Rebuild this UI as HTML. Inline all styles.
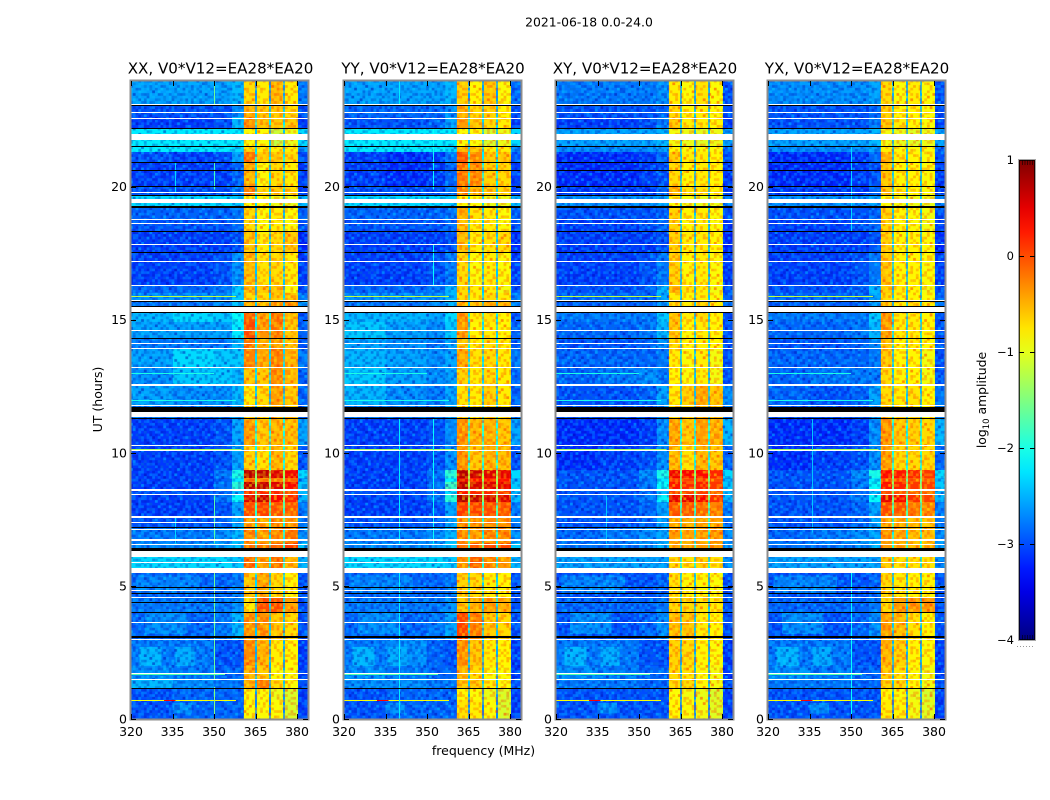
<!DOCTYPE html>
<html>
<head>
<meta charset="utf-8">
<title>2021-06-18 0.0-24.0</title>
<style>
html,body{margin:0;padding:0;background:#fff;}
svg{display:block;}
text{font-family:"DejaVu Sans","Liberation Sans",sans-serif;fill:#000;}
</style>
</head>
<body>
<svg id="chart" xmlns="http://www.w3.org/2000/svg" width="1050" height="800" viewBox="0 0 1050 800">
  <defs id="defs"></defs>
  <text x="589" y="26.500" text-anchor="middle" font-size="12.4">2021-06-18 0.0-24.0</text>
  <text x="483.500" y="755" text-anchor="middle" font-size="12.5">frequency (MHz)</text>
  <text transform="translate(102,399.500) rotate(-90)" text-anchor="middle" font-size="12.5">UT (hours)</text>
  <text transform="translate(986,400) rotate(-90)" text-anchor="middle" font-size="12.4">log<tspan font-size="8.5" dy="3">10</tspan><tspan dy="-3"> amplitude</tspan></text>
</svg>
<script>
/* ---- data ---- */
const panelTitles = ["XX, V0*V12=EA28*EA20","YY, V0*V12=EA28*EA20","XY, V0*V12=EA28*EA20","YX, V0*V12=EA28*EA20"];
const xTickValues = [320,335,350,365,380];
const yTickValues = [0,5,10,15,20];
const colorbarTickValues = [1,0,-1,-2,-3,-4];

/* time-block edges, hours */
const timeEdges = [23.95,23.1,22.6,22.2,21.5,21.3,20.9,20,19.7,19.25,18.8,18.3,17.5,16.3,16,15.7,15.3,14.9,14.3,13.9,13.2,12.55,11.77,11.3,10.3,9.35,9.05,8.9,8.6,8.4,8.15,7.6,7.2,6.6,6.3,5.5,4.6,4,3,2,1.5,1.15,0.7,0];
/* frequency-block edges, MHz */
const freqEdges = [320,335,350,356.5,360.7,364.7,365.6,369.7,370.6,374.8,375.8,380.2,384];
/* which value of a row each frequency block uses: L M R N b1 gap b2 gap b3 gap b4 edge */
const freqBlockColumn = [0,1,2,3,4,8,5,8,6,8,7,9];

/* log10 amplitude per time block: [L,M,R,N,band1,band2,band3,band4,gap,edge] */
const xxValues = [
[-2.6,-2.6,-2.6,-2.5,-0.7,-0.8,-0.5,-0.8,-2.2,-2.8],
[-3,-3,-3,-2.7,-0.5,-0.6,-0.6,-0.7,-1.9,-3],
[-3.1,-3.1,-3,-2.5,-0.35,-0.55,-0.6,-0.6,-1.8,-3.1],
[-2.2,-2.2,-2.2,-2.2,-0.9,-0.9,-1.2,-1,-2,-2.3],
[-2.2,-2.2,-2.2,-2.3,-0.7,-0.8,-0.8,-0.8,-1.9,-2.7],
[-3,-3.1,-3,-2.6,-0.2,-0.6,-0.6,-0.7,-1.8,-3],
[-3.1,-3.1,-3.1,-2.9,-0.5,-0.9,-0.7,-0.8,-1.9,-3.1],
[-3,-3,-3,-2.8,-0.25,-0.7,-0.6,-0.7,-1.9,-3.1],
[-2.3,-2.3,-2.3,-2.4,-0.9,-0.9,-1,-1,-1.9,-2.5],
[-2.9,-2.9,-2.9,-2.8,-0.7,-0.9,-0.8,-0.9,-2,-2.9],
[-3,-3,-3,-2.9,-0.7,-0.9,-0.8,-0.9,-2,-3],
[-3.1,-3.1,-3.1,-3,-0.6,-0.8,-0.7,-0.6,-2,-3.2],
[-3.1,-3.1,-3,-2.7,-0.55,-0.75,-0.7,-0.8,-2,-3.1],
[-2.9,-2.9,-2.8,-2.4,-0.55,-0.6,-0.55,-0.9,-2,-3],
[-2.7,-2.7,-2.7,-2.4,-0.7,-0.7,-0.6,-0.6,-1.9,-2.8],
[-2.8,-2.8,-2.7,-2.4,-0.5,-0.6,-0.4,-0.3,-2,-2.6],
[-2.5,-2.3,-2.4,-2.1,-0.05,-0.4,-0.2,-0.55,-1.7,-3],
[-2.6,-2.6,-2.6,-2.2,0,-0.35,-0.25,-0.6,-1.8,-2.9],
[-2.8,-2.8,-2.8,-2.5,-0.2,-0.5,-0.4,-0.6,-1.8,-3],
[-2.6,-2.3,-2.4,-2.4,-0.25,-0.45,-0.25,-0.5,-1.9,-2.8],
[-2.7,-2.4,-2.4,-2.5,-0.6,-0.6,-0.3,-0.55,-1.9,-2.9],
[-2.6,-2.7,-2.7,-2.5,-0.8,-0.7,-0.4,-0.6,-2,-2.9],
[-2.8,-2.8,-2.8,-2.6,-0.7,-0.7,-0.5,-0.6,-2,-2.9],
[-3.1,-3.1,-3,-2.6,-0.4,-0.6,-0.5,-0.55,-1.6,-2.6],
[-3.1,-3.1,-3,-2.6,-0.65,-0.75,-0.5,-0.7,-1.7,-3],
[-3.1,-3.1,-2.8,-2,0.75,0.7,0.55,0.45,-1,-2.3],
[-3.1,-3.1,-2.9,-2.2,-0.2,-0.3,-0.2,-0.1,-1.1,-2.6],
[-3.1,-3.1,-2.8,-1.9,0.75,0.7,0.55,0.4,-1,-2.4],
[-3,-3,-2.9,-2.5,0.2,0.2,0.2,0,-1.2,-2.5],
[-3.1,-3.1,-2.8,-2.1,0.55,0.65,0.4,0.2,-1.1,-2.5],
[-3.1,-3.1,-3,-2.6,0,0.05,-0.05,-0.1,-1.5,-2.8],
[-3,-3,-2.9,-2.6,-0.4,-0.45,-0.3,-0.4,-1.7,-2.8],
[-2.8,-2.8,-2.7,-2.5,-0.3,-0.4,-0.3,-0.2,-1.8,-2.7],
[-2.7,-2.7,-2.6,-2.4,-0.2,-0.2,-0.1,0.1,-1.5,-2.4],
[-2.3,-2.3,-2.3,-2.4,-0.15,-0.4,-0.2,-0.5,-1.7,-2.5],
[-2.9,-2.9,-2.9,-2.8,-0.6,-0.45,-0.7,-0.85,-1.9,-3],
[-2.8,-2.8,-2.8,-2.7,-0.8,0,0,-0.4,-1.9,-3],
[-2.9,-2.9,-2.8,-2.5,-0.35,-0.35,-0.6,-0.7,-2,-3],
[-2.8,-2.8,-3,-3,-0.3,-0.5,-0.8,-0.85,-2.1,-3.1],
[-2.7,-2.8,-2.9,-2.9,-0.5,-0.6,-0.9,-0.9,-2.1,-3.1],
[-2.5,-2.7,-2.8,-2.8,-0.5,-0.2,-0.7,-0.9,-2,-3],
[-3,-2.9,-2.9,-2.9,-0.9,-0.9,-1,-1.1,-2.2,-3.1],
[-3,-2.9,-2.9,-2.9,-0.9,-0.9,-0.9,-1.1,-2.3,-3.1]
];
const yyValues = [
[-2.6,-2.6,-2.6,-2.5,-0.65,-0.85,-0.6,-0.9,-2.2,-2.9],
[-2.9,-2.9,-2.9,-2.7,-0.5,-0.7,-0.65,-0.85,-2,-3],
[-3,-3,-2.9,-2.6,-0.4,-0.6,-0.7,-0.8,-1.9,-3.1],
[-2.2,-2.2,-2.2,-2.2,-0.9,-0.9,-1.1,-1,-2,-2.3],
[-2.2,-2.2,-2.2,-2.3,-0.5,-0.6,-0.8,-0.8,-1.9,-2.7],
[-3.1,-3.2,-3.1,-2.8,-0.05,-0.3,-0.6,-0.6,-1.8,-3],
[-3.1,-3.2,-3.1,-2.9,-0.2,-0.3,-0.65,-0.7,-1.8,-3.1],
[-3,-3,-3,-2.8,-0.3,-0.5,-0.6,-0.7,-1.9,-3.1],
[-2.3,-2.3,-2.3,-2.4,-0.85,-0.9,-1,-1,-1.9,-2.5],
[-2.9,-2.9,-2.9,-2.8,-0.5,-0.75,-0.8,-0.9,-2,-2.9],
[-3,-3,-3,-2.9,-0.55,-0.8,-0.8,-0.9,-2,-3],
[-3.1,-3.1,-3.1,-3,-0.55,-0.8,-0.75,-0.7,-2,-3.2],
[-3.1,-3.1,-3,-2.8,-0.7,-0.9,-0.8,-0.9,-2,-3.1],
[-2.9,-2.9,-2.8,-2.5,-0.7,-0.8,-0.8,-0.95,-2,-3],
[-2.7,-2.7,-2.7,-2.5,-0.7,-0.8,-0.7,-0.8,-1.9,-2.8],
[-2.8,-2.8,-2.7,-2.5,-0.5,-0.6,-0.5,-0.5,-2,-2.7],
[-2.5,-2.5,-2.6,-2.3,-0.35,-0.8,-0.75,-0.85,-1.8,-3],
[-2.4,-2.6,-2.7,-2.4,-0.4,-0.85,-0.8,-0.85,-1.9,-2.9],
[-2.6,-2.7,-2.8,-2.6,-0.6,-0.8,-0.7,-0.8,-1.8,-3],
[-2.5,-2.6,-2.7,-2.6,-0.45,-0.75,-0.7,-0.8,-1.9,-2.8],
[-2.4,-2.6,-2.7,-2.6,-0.65,-0.8,-0.7,-0.8,-1.9,-2.9],
[-2.5,-2.7,-2.8,-2.6,-0.75,-0.8,-0.65,-0.8,-2,-2.9],
[-2.8,-2.8,-2.8,-2.6,-0.7,-0.8,-0.7,-0.8,-2,-2.9],
[-3.1,-3.1,-3,-2.7,-0.35,-0.5,-0.5,-0.6,-1.6,-2.6],
[-3.1,-3.1,-3,-2.7,-0.35,-0.6,-0.5,-0.55,-1.6,-3],
[-3.1,-3.1,-2.8,-1.9,0.75,0.65,0.55,0.5,-0.9,-2.3],
[-3.1,-3.1,-2.9,-2.1,0.5,0.3,0.3,0.3,-1,-2.5],
[-3.1,-3.1,-2.8,-1.8,0.75,0.6,0.55,0.5,-0.9,-2.4],
[-3,-3,-2.9,-2.3,0.3,0.2,0.2,0.1,-1.1,-2.5],
[-3.1,-3.1,-2.8,-1.9,0.8,0.7,0.6,0.55,-1,-2.5],
[-3.1,-3.1,-3,-2.6,0.1,0.05,0,-0.05,-1.4,-2.8],
[-3,-3,-2.9,-2.6,-0.35,-0.35,-0.3,-0.35,-1.7,-2.8],
[-2.8,-2.8,-2.7,-2.5,-0.3,-0.4,-0.3,-0.3,-1.8,-2.7],
[-2.7,-2.7,-2.6,-2.4,-0.2,-0.1,0,0,-1.5,-2.4],
[-2.3,-2.3,-2.3,-2.4,-0.35,-0.1,-0.3,-0.4,-1.7,-2.5],
[-2.9,-2.9,-2.9,-2.8,-0.65,-0.7,-0.8,-0.85,-1.9,-3],
[-2.8,-2.8,-2.8,-2.7,-0.6,-0.5,-0.4,-0.5,-1.9,-3],
[-2.9,-2.9,-2.8,-2.6,0.05,-0.25,-0.6,-0.7,-2,-3],
[-2.8,-2.7,-2.9,-3,-0.35,-0.6,-0.8,-0.85,-2.1,-3.1],
[-2.7,-2.8,-2.9,-2.9,-0.5,-0.7,-0.9,-0.9,-2.1,-3.1],
[-2.7,-2.7,-2.8,-2.8,-0.6,-0.6,-0.8,-0.9,-2,-3],
[-3,-2.9,-2.9,-2.9,-0.85,-0.9,-1,-1.1,-2.2,-3.1],
[-3,-2.9,-2.9,-2.9,-0.75,-0.8,-0.9,-1.1,-2.3,-3.1]
];
const xyValues = [
[-2.8,-2.8,-2.8,-2.7,-0.8,-0.9,-0.75,-0.9,-2.1,-3],
[-3,-3,-3,-2.9,-0.7,-0.85,-0.8,-0.9,-2,-3],
[-3.1,-3.1,-3,-2.8,-0.6,-0.8,-0.8,-0.85,-2,-3.1],
[-2.6,-2.6,-2.6,-2.5,-0.95,-1,-1.05,-1,-2,-2.6],
[-2.7,-2.7,-2.7,-2.6,-0.85,-0.9,-0.9,-0.9,-2,-2.9],
[-3.2,-3.2,-3.1,-2.9,-0.6,-0.8,-0.8,-0.85,-2,-3],
[-3.2,-3.2,-3.1,-3,-0.7,-0.85,-0.8,-0.85,-2,-3.1],
[-3.1,-3.1,-3.1,-2.9,-0.5,-0.75,-0.75,-0.85,-2,-3.1],
[-2.7,-2.7,-2.7,-2.6,-0.9,-0.95,-1,-1,-2,-2.8],
[-3,-3,-3,-2.9,-0.65,-0.85,-0.8,-0.9,-2,-3],
[-3.1,-3.1,-3,-2.9,-0.65,-0.85,-0.8,-0.9,-2,-3.1],
[-3.1,-3.1,-3.1,-3,-0.65,-0.8,-0.8,-0.85,-2,-3.2],
[-3.1,-3.1,-3,-2.8,-0.65,-0.85,-0.8,-0.9,-2,-3.1],
[-3,-3,-2.9,-2.5,-0.55,-0.75,-0.8,-0.95,-2,-3],
[-2.9,-2.9,-2.9,-2.6,-0.8,-0.85,-0.8,-0.9,-2,-2.9],
[-2.9,-2.9,-2.9,-2.6,-0.7,-0.8,-0.7,-0.8,-2,-2.8],
[-2.8,-2.8,-2.8,-2.4,-0.55,-0.8,-0.7,-0.85,-1.9,-3],
[-2.9,-2.9,-2.8,-2.5,-0.6,-0.85,-0.8,-0.85,-1.9,-3],
[-3,-3,-2.9,-2.7,-0.7,-0.85,-0.8,-0.85,-1.9,-3],
[-2.9,-2.9,-2.9,-2.8,-0.8,-0.9,-0.8,-0.95,-2,-3],
[-2.9,-2.8,-2.7,-2.8,-0.85,-0.9,-0.8,-0.95,-2,-3],
[-3,-3,-2.9,-2.6,-0.8,-0.65,-0.45,-0.6,-2,-2.7],
[-3,-3,-3,-2.7,-0.7,-0.65,-0.5,-0.6,-2,-2.8],
[-3.2,-3.2,-3.1,-2.7,-0.45,-0.6,-0.4,-0.5,-1.7,-2.5],
[-3.2,-3.1,-3,-2.7,-0.55,-0.75,-0.5,-0.6,-1.7,-2.9],
[-3,-3,-2.7,-2,0.45,0.4,0.35,0.2,-1.1,-2.3],
[-3,-3,-2.8,-2.2,0.1,0.05,0.1,0,-1.2,-2.5],
[-3,-3,-2.8,-2.1,0.3,0.2,0.25,0.1,-1.1,-2.4],
[-3,-3,-2.9,-2.5,0.05,0,0.05,-0.1,-1.3,-2.5],
[-3,-3,-2.8,-2.1,0.5,0.5,0.4,0.15,-1.2,-2.5],
[-3,-3,-2.9,-2.6,-0.05,-0.05,-0.15,-0.25,-1.5,-2.8],
[-3,-3,-2.9,-2.6,-0.45,-0.5,-0.4,-0.45,-1.7,-2.8],
[-2.9,-2.8,-2.7,-2.6,-0.4,-0.45,-0.4,-0.35,-1.8,-2.7],
[-2.8,-2.8,-2.7,-2.5,-0.45,-0.5,-0.4,-0.4,-1.6,-2.6],
[-2.6,-2.6,-2.6,-2.6,-0.7,-0.75,-0.65,-0.75,-1.8,-2.7],
[-3,-3,-3,-2.9,-0.75,-0.85,-0.85,-0.9,-2,-3],
[-2.9,-2.9,-2.9,-2.8,-0.7,-0.7,-0.75,-0.8,-2,-3],
[-3,-3,-2.9,-2.7,-0.55,-0.6,-0.8,-0.85,-2,-3],
[-2.8,-2.8,-3,-3,-0.65,-0.7,-0.85,-0.9,-2.1,-3.1],
[-2.7,-2.8,-2.9,-2.9,-0.7,-0.75,-0.9,-0.95,-2.1,-3.1],
[-2.8,-2.8,-2.9,-2.9,-0.7,-0.7,-0.85,-0.95,-2,-3],
[-3,-3,-3,-3,-0.9,-0.95,-1,-1.1,-2.2,-3.1],
[-3,-3,-3,-3,-0.85,-0.9,-0.95,-1.05,-2.3,-3.1]
];
const yxValues = [
[-2.7,-2.7,-2.7,-2.6,-0.7,-0.9,-0.8,-0.9,-2.1,-3],
[-3,-3,-3,-2.9,-0.65,-0.85,-0.85,-0.9,-2,-3],
[-3,-3,-3,-2.8,-0.6,-0.8,-0.85,-0.9,-2,-3.1],
[-2.6,-2.6,-2.6,-2.5,-0.95,-1,-1.05,-1,-2,-2.6],
[-2.7,-2.7,-2.7,-2.6,-0.8,-0.9,-0.9,-0.9,-2,-2.9],
[-3.2,-3.2,-3.1,-2.9,-0.5,-0.8,-0.85,-0.9,-2,-3],
[-3.2,-3.2,-3.1,-3,-0.6,-0.85,-0.85,-0.9,-2,-3.1],
[-3.1,-3.1,-3.1,-2.9,-0.6,-0.8,-0.85,-0.9,-2,-3.1],
[-2.7,-2.7,-2.7,-2.6,-0.9,-0.95,-1,-1,-2,-2.8],
[-3,-3,-3,-2.9,-0.65,-0.85,-0.9,-0.95,-2,-3],
[-3.1,-3.1,-3,-2.9,-0.65,-0.85,-0.9,-0.95,-2,-3.1],
[-3.1,-3.1,-3.1,-3,-0.65,-0.85,-0.85,-0.9,-2,-3.2],
[-3.1,-3.1,-3,-2.8,-0.6,-0.85,-0.85,-0.9,-2,-3.1],
[-3,-3,-2.9,-2.5,-0.6,-0.8,-0.85,-0.95,-2,-3],
[-2.9,-2.9,-2.9,-2.6,-0.7,-0.85,-0.85,-0.9,-2,-2.9],
[-2.9,-2.9,-2.9,-2.6,-0.6,-0.8,-0.75,-0.8,-2,-2.8],
[-2.8,-2.8,-2.8,-2.4,-0.35,-0.8,-0.8,-0.85,-1.9,-3],
[-2.9,-2.9,-2.8,-2.5,-0.4,-0.8,-0.8,-0.85,-1.9,-3],
[-3,-3,-2.9,-2.7,-0.55,-0.85,-0.8,-0.85,-1.9,-3],
[-2.9,-2.9,-2.9,-2.8,-0.6,-0.85,-0.85,-0.95,-2,-3],
[-2.9,-2.8,-2.8,-2.8,-0.7,-0.85,-0.85,-0.95,-2,-3],
[-2.9,-3,-2.9,-2.6,-0.7,-0.8,-0.75,-0.85,-2,-2.8],
[-3,-3,-3,-2.7,-0.6,-0.8,-0.8,-0.85,-2,-2.8],
[-3.2,-3.2,-3.1,-2.7,-0.35,-0.6,-0.65,-0.7,-1.7,-2.5],
[-3.2,-3.1,-3,-2.7,-0.4,-0.7,-0.7,-0.7,-1.7,-2.9],
[-3,-3,-2.7,-2,0.35,0.3,0.2,0.1,-1.1,-2.3],
[-3,-3,-2.8,-2.2,0.05,0,-0.05,-0.1,-1.2,-2.5],
[-3,-3,-2.8,-2.1,0.3,0.25,0.1,0.05,-1.1,-2.4],
[-3,-3,-2.9,-2.5,0,-0.05,-0.1,-0.15,-1.3,-2.5],
[-3,-3,-2.8,-2.1,0.5,0.4,0.15,0.05,-1.2,-2.5],
[-3,-3,-2.9,-2.6,0,-0.05,-0.2,-0.3,-1.5,-2.8],
[-3,-3,-2.9,-2.6,-0.45,-0.5,-0.55,-0.6,-1.7,-2.8],
[-2.9,-2.8,-2.7,-2.6,-0.35,-0.45,-0.55,-0.55,-1.8,-2.7],
[-2.8,-2.8,-2.7,-2.5,-0.4,-0.5,-0.55,-0.55,-1.6,-2.6],
[-2.6,-2.6,-2.6,-2.6,-0.6,-0.75,-0.75,-0.75,-1.8,-2.7],
[-3,-3,-3,-2.9,-0.7,-0.8,-0.85,-0.85,-2,-3],
[-2.9,-2.9,-2.9,-2.8,-0.7,-0.4,-0.35,-0.35,-2,-3],
[-3,-3,-2.9,-2.7,-0.4,-0.55,-0.75,-0.85,-2,-3],
[-2.8,-2.8,-3,-3,-0.5,-0.65,-0.85,-0.9,-2.1,-3.1],
[-2.7,-2.8,-2.9,-2.9,-0.6,-0.75,-0.9,-0.95,-2.1,-3.1],
[-2.8,-2.8,-2.9,-2.9,-0.65,-0.7,-0.85,-0.95,-2,-3],
[-3,-3,-3,-3,-0.85,-0.9,-1,-1.1,-2.2,-3.1],
[-3,-3,-3,-3,-0.8,-0.85,-0.95,-1.05,-2.3,-3.1]
];

/* flagged-out time ranges, hours [from,to] – shared by all correlations */
const whiteFlags = [[23.11,23.06],[22.8,22.76],[22.59,22.55],[21.96,21.75],[19.79,19.75],[19.53,19.4],[18.79,18.75],[18.64,18.6],[17.86,17.82],[17.21,17.17],[16.29,16.25],[15.74,15.7],[15.49,15.3],[14.63,14.59],[14.13,14.09],[13.95,13.91],[13.22,13.18],[12.59,12.5],[11.79,11.75],[11.52,11.36],[10.29,10.25],[10.12,10.08],[8.65,8.55],[8.47,8.43],[7.62,7.55],[7.41,7.37],[7.15,7.11],[6.75,6.69],[6.59,6.55],[6.31,6.12],[6.11,6.07],[5.89,5.85],[5.66,5.5],[4.84,4.8],[4.59,4.55],[3.65,3.61],[3.02,2.98],[1.72,1.68],[1.5,1.46]];
const blackFlags = [[23.06,23.03],[22.21,22.17],[21.52,21.48],[20.92,20.88],[20.61,20.57],[20.02,19.98],[19.69,19.65],[19.26,19.19],[18.33,18.29],[17.54,17.5],[15.69,15.65],[15.52,15.49],[15.3,15.26],[14.32,14.28],[11.73,11.54],[11.32,11.28],[7.22,7.18],[6.41,6.32],[4.97,4.93],[4.72,4.68],[4.39,4.35],[4.03,3.99],[3.1,3.06],[1.17,1.13]];

/* narrow interference features, per correlation: vertical = [MHz,level,fromHour,toHour] */
const xxVerticalRfi = [[350,-1.5,0,1.2],[350,-1.6,1.5,5.5],[350,-1.7,6.6,8.4],[350,-1.8,19.9,20.9],[350,-1.6,23.1,23.95],[336,-2.3,19.8,20.9],[336,-2.3,6.6,7.6]];
const yyVerticalRfi = [[340,-2.2,6.6,11.3],[340,-2.2,0,5.5],[352,-2.1,6.6,11.3],[352,-2.1,19.9,22.2],[352,-2.1,16.3,17.8],[340,-2.2,23.1,23.95]];
const xyVerticalRfi = [[338,-2.4,6.6,8.4]];
const yxVerticalRfi = [[350,-2.1,0,5.5],[336,-2.4,7,11.3],[350,-2.3,18.3,21.5]];
/* horizontal = [hour,fromMHz,toMHz,level] */
const horizontalRfiHours = [[0.7,320,358,-0.9],[0.7,332,336,0.4],[1.7,320,354,-1.7],[6.57,320,362,-0.8],[10.13,320,360,-1.3],[15.9,320,358,-1.2],[13,320,350,-2],[12,320,358,-2]];
/* soft brighter patches in the background = [fromHour,toHour,fromMHz,toMHz,level] */
const backgroundPatches = [[2,2.7,323,331,-2.5],[2,2.7,336,343,-2.55],[0.2,0.6,335,342,-2.7],[4.7,5.4,322,345,-2.75],[3.2,4,325,340,-2.7]];

/* small hand-typed grain tile standing in for channel noise I cannot read cell by cell */
const speckleTile = [
"w..k.w..kw...k.w.",
".k..w..k...w.k...",
"..w.k.w..k.w...kw",
"k...w...w..k.w...",
".w.k..k.w.k...w.k",
"w..w.k...w..k.w..",
".k...w.k..w..k..w",
"..wk...w.k...w.k.",
"w...k.w...w.k...w",
".k.w..k.w...w.k..",
"..k.w...k.w.k..w.",
"w.w...k.w..k..w.k",
".k..k.w...k.w...w"
];

/* ---- layout constants and axis functions ---- */
const SVG_NS = "http://www.w3.org/2000/svg";
const chart = document.getElementById("chart");
const panelLeft = [131,344,556,768];
const PANEL_W = 177, PANEL_TOP = 81, PANEL_BOTTOM = 719;
const PX_PER_MHZ = 2.767, PX_PER_HOUR = 26.62, GRAIN_H = 2.66;
const GAP_COLUMN = 8, GAP_DEPTH = -0.4;
const CB = {x:1019, w:16, top:160, bottom:640};
const VMIN = -4, VMAX = 1;

function xScale(freq, panel){ return panelLeft[panel] + (freq-320)*PX_PER_MHZ; }
function yScale(hour){ return PANEL_BOTTOM - hour*PX_PER_HOUR; }
function cbScale(v){ return CB.bottom - (v-VMIN)/(VMAX-VMIN)*(CB.bottom-CB.top); }
function clip01(a){ return Math.max(0,Math.min(1,a)); }
function jet(v){
  const t = clip01((v-VMIN)/(VMAX-VMIN));
  const r = clip01(1.5-Math.abs(4*t-3));
  const g = clip01(1.5-Math.abs(4*t-2));
  const b = clip01(1.5-Math.abs(4*t-1));
  return "rgb("+Math.round(r*255)+","+Math.round(g*255)+","+Math.round(b*255)+")";
}
function node(tag, parent, attrs){
  const n = document.createElementNS(SVG_NS, tag);
  for(const k in attrs){ n.setAttribute(k, attrs[k]); }
  parent.appendChild(n);
  return n;
}
function minusText(v){ return v<0 ? "\u2212"+Math.abs(v) : String(v); }

/* grain patterns: the tile and its transpose tile at different periods so the repeat is not obvious */
const defs = document.getElementById("defs");
const tileRows = speckleTile.length, tileCols = speckleTile[0].length;
function grainPattern(id, transpose, lightColor, darkColor, opacity){
  const cols = transpose ? tileRows : tileCols;
  const rows = transpose ? tileCols : tileRows;
  const pat = node("pattern", defs, {id:id,patternUnits:"userSpaceOnUse",width:cols*PX_PER_MHZ,height:rows*GRAIN_H});
  for(let ry=0;ry<rows;ry++){
    for(let rx=0;rx<cols;rx++){
      const ch = transpose ? speckleTile[rx][ry] : speckleTile[ry][rx];
      if(ch==="."){ continue; }
      node("rect", pat, {x:rx*PX_PER_MHZ,y:ry*GRAIN_H,width:PX_PER_MHZ,height:GRAIN_H,fill:ch==="w"?lightColor:darkColor,"fill-opacity":opacity});
    }
  }
}
grainPattern("grainCoolA", false, "#00d8ff", "#0000a8", 0.3);
grainPattern("grainCoolB", true, "#00d8ff", "#0000a8", 0.22);
grainPattern("grainWarmA", false, "#fff000", "#ff3000", 0.34);
grainPattern("grainWarmB", true, "#fff000", "#ff3000", 0.26);

/* colorbar gradient */
const grad = node("linearGradient", defs, {id:"jetGradient",x1:0,y1:1,x2:0,y2:0});
for(let i=0;i<=20;i++){
  node("stop", grad, {offset:(i/20),"stop-color":jet(VMIN+(VMAX-VMIN)*i/20)});
}

/* panels */
const panelValues = [xxValues,yyValues,xyValues,yxValues];
const panelVerticalRfi = [xxVerticalRfi,yyVerticalRfi,xyVerticalRfi,yxVerticalRfi];
const BAND_START = 360.7, BAND_END = 380.2;
panelValues.forEach(function(values,p){
  const g = node("g", chart, {"shape-rendering":"crispEdges"});
  
  

  values.forEach(function(row,i){
    const y0 = Math.round(yScale(timeEdges[i])), y1 = Math.round(yScale(timeEdges[i+1]));
    freqBlockColumn.forEach(function(col,c){
      const x0 = Math.round(xScale(freqEdges[c],p)), x1 = Math.min(panelLeft[p]+PANEL_W, Math.round(xScale(freqEdges[c+1],p)));
      const level = row[col] + (col===GAP_COLUMN ? GAP_DEPTH : 0);
      const cell = node("rect", g, {x:x0,y:y0,width:x1-x0,height:y1-y0,fill:jet(level)});
      
      
    });
  });

  backgroundPatches.forEach(function(d){
    const patch = node("rect", g, {x:xScale(d[2],p),y:yScale(d[1]),width:(d[3]-d[2])*PX_PER_MHZ,height:(d[1]-d[0])*PX_PER_HOUR,fill:jet(d[4])});
    
    
  });

  const xBandL = xScale(BAND_START,p), xBandR = xScale(BAND_END,p), xEnd = panelLeft[p]+PANEL_W;
  ["grainCoolA","grainCoolB"].forEach(function(id){
    const left = node("rect", g, {x:panelLeft[p],y:PANEL_TOP,width:xBandL-panelLeft[p],height:PANEL_BOTTOM-PANEL_TOP,fill:"url(#"+id+")"});
    
    
    const right = node("rect", g, {x:xBandR,y:PANEL_TOP,width:xEnd-xBandR,height:PANEL_BOTTOM-PANEL_TOP,fill:"url(#"+id+")"});
    
    
  });
  ["grainWarmA","grainWarmB"].forEach(function(id){
    const band = node("rect", g, {x:xBandL,y:PANEL_TOP,width:xBandR-xBandL,height:PANEL_BOTTOM-PANEL_TOP,fill:"url(#"+id+")"});
    
    
  });

  horizontalRfiHours.forEach(function(d){
    const line = node("rect", g, {x:xScale(d[1],p),y:Math.round(yScale(d[0])),width:(d[2]-d[1])*PX_PER_MHZ,height:1,fill:jet(d[3])});
    
    
  });
  panelVerticalRfi[p].forEach(function(d){
    const line = node("rect", g, {x:Math.round(xScale(d[0],p)),y:yScale(d[3]),width:1,height:(d[3]-d[2])*PX_PER_HOUR,fill:jet(d[1])});
    
    
  });

  whiteFlags.forEach(function(d){
    const y0 = Math.round(yScale(d[0])), y1 = Math.max(y0+1, Math.round(yScale(d[1])));
    const flag = node("rect", g, {x:panelLeft[p],y:y0,width:PANEL_W,height:y1-y0,fill:"#fff"});
    
    
  });
  blackFlags.forEach(function(d){
    const y0 = Math.round(yScale(d[0])), y1 = Math.max(y0+1, Math.round(yScale(d[1])));
    const flag = node("rect", g, {x:panelLeft[p],y:y0,width:PANEL_W,height:y1-y0,fill:"#000"});
    
    
  });

  const frame = node("rect", chart, {x:panelLeft[p]-0.5,y:PANEL_TOP-0.5,width:PANEL_W+1,height:PANEL_BOTTOM-PANEL_TOP+1,fill:"none",stroke:"#8c8c8c","stroke-width":2});
  
  

  xTickValues.forEach(function(v){
    const x = Math.round(xScale(v,p))+0.5;
    const tb = node("line", chart, {x1:x,x2:x,y1:PANEL_BOTTOM,y2:PANEL_BOTTOM-5,stroke:"#000","stroke-width":1});
    
    
    const tt = node("line", chart, {x1:x,x2:x,y1:PANEL_TOP,y2:PANEL_TOP+5,stroke:"#000","stroke-width":1});
    
    
    const label = node("text", chart, {x:xScale(v,p),y:736,"text-anchor":"middle","font-size":12.5});
    label.textContent = String(v);
    
    
  });

  yTickValues.forEach(function(v){
    const y = Math.round(yScale(v))+0.5;
    const tl = node("line", chart, {x1:panelLeft[p],x2:panelLeft[p]+5,y1:y,y2:y,stroke:"#000","stroke-width":1});
    
    
    const tr = node("line", chart, {x1:panelLeft[p]+PANEL_W,x2:panelLeft[p]+PANEL_W-5,y1:y,y2:y,stroke:"#000","stroke-width":1});
    
    
    const label = node("text", chart, {x:panelLeft[p]-4,y:yScale(v)+4.5,"text-anchor":"end","font-size":12.5});
    label.textContent = String(v);
    
    
  });

  const title = node("text", chart, {x:panelLeft[p]+PANEL_W/2+(p===0?1:0.5),y:73.500,"text-anchor":"middle","font-size":15.1});
  title.textContent = panelTitles[p];
  
  
});

/* colorbar */
const bar = node("rect", chart, {x:CB.x,y:CB.top,width:CB.w,height:CB.bottom-CB.top,fill:"url(#jetGradient)"});


const barOuter = node("rect", chart, {x:CB.x-0.5,y:CB.top-0.5,width:CB.w+1,height:CB.bottom-CB.top+1,fill:"none",stroke:"#a8a8a8","stroke-width":1});


const barFrame = node("rect", chart, {x:CB.x+0.5,y:CB.top+0.5,width:CB.w-1,height:CB.bottom-CB.top-1,fill:"none",stroke:"#000","stroke-width":1,"stroke-opacity":0.75});


colorbarTickValues.forEach(function(v){
  const y = Math.round(cbScale(v))+0.5;
  if(v<VMAX && v>VMIN){
    const a = node("line", chart, {x1:CB.x,x2:CB.x+5,y1:y,y2:y,stroke:"#000","stroke-width":1});
    
    
    const b = node("line", chart, {x1:CB.x+CB.w,x2:CB.x+CB.w-5,y1:y,y2:y,stroke:"#000","stroke-width":1});
    
    
  }
  const label = node("text", chart, {x:CB.x-5,y:cbScale(v)+4,"text-anchor":"end","font-size":11.5});
  label.textContent = minusText(v);
  
  
});
for(let i=0;i<5;i++){
  const px = CB.x+3.5+i*2.5;
  const t1 = node("line", chart, {x1:px,x2:px,y1:CB.top,y2:CB.top+5,stroke:"#000","stroke-width":0.8,"stroke-opacity":0.7});
  
  
  const t2 = node("line", chart, {x1:px,x2:px,y1:CB.bottom,y2:CB.bottom-5,stroke:"#000","stroke-width":0.8,"stroke-opacity":0.7});
  
  
}
const dots = node("line", chart, {x1:1017,x2:1035,y1:646.5,y2:646.5,stroke:"#999","stroke-width":1,"stroke-dasharray":"1 2"});


</script>
</body>
</html>
